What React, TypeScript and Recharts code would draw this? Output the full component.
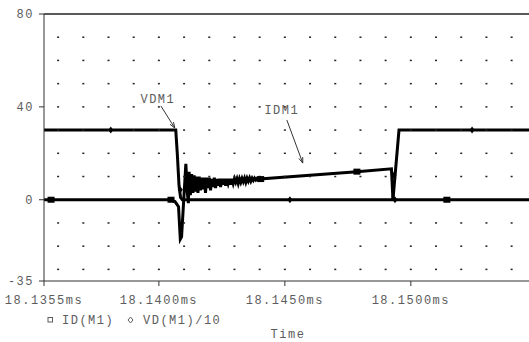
import React from "react";
import {
  ComposedChart,
  Line,
  Scatter,
  XAxis,
  YAxis,
  ReferenceLine,
  ReferenceDot,
} from "recharts";

// time in ms, value in the plot's units (VD already divided by 10)
const idTrace: [number, number][] = [
  [18.13544, 0],
  [18.14044, 0],
  [18.14064, -0.8],
  [18.14078, -3],
  [18.14085, -17],
  [18.1409, -16],
  [18.14107, 15.5],
  [18.14113, 3],
  [18.14117, -1.5],
  [18.1412, 12],
  [18.14125, 2],
  [18.1413, 11],
  [18.14135, 3],
  [18.1414, 10.5],
  [18.14145, 3.5],
  [18.1415, 10],
  [18.14155, 3],
  [18.1416, 10],
  [18.14165, 4],
  [18.1417, 9.5],
  [18.14175, 4.5],
  [18.1418, 9.5],
  [18.14185, 3],
  [18.1419, 9.5],
  [18.14195, 5],
  [18.142, 9.5],
  [18.14205, 4],
  [18.1421, 9],
  [18.14215, 5.5],
  [18.1422, 9.5],
  [18.14225, 5],
  [18.1423, 9],
  [18.14235, 6],
  [18.1424, 9],
  [18.14245, 5.5],
  [18.1425, 9],
  [18.14255, 6.5],
  [18.1426, 9],
  [18.14265, 6],
  [18.1427, 9],
  [18.14275, 7],
  [18.1428, 9],
  [18.14285, 6.5],
  [18.1429, 9],
  [18.14295, 7],
  [18.143, 9],
  [18.14305, 7.5],
  [18.1431, 9],
  [18.14315, 7],
  [18.1432, 9],
  [18.14325, 7.5],
  [18.1433, 9.2],
  [18.14335, 7.8],
  [18.1434, 9.3],
  [18.14345, 7.5],
  [18.1435, 9.3],
  [18.14355, 8],
  [18.1436, 9.4],
  [18.14365, 8],
  [18.1437, 9.3],
  [18.14375, 8.3],
  [18.1438, 9.3],
  [18.14385, 8.5],
  [18.1439, 9.2],
  [18.14395, 8.6],
  [18.144, 8.9],
  [18.14786, 12.1],
  [18.14923, 13.3],
  [18.14929, 0.3],
  [18.14935, 0],
  [18.15469, 0],
];

const vdTrace: [number, number][] = [
  [18.13544, 30],
  [18.14067, 30],
  [18.14073, 20],
  [18.1408, 6],
  [18.14086, 1],
  [18.14093, 0],
  [18.14929, 0],
  [18.14937, 10],
  [18.14953, 30],
  [18.15469, 30],
];

const idMarks: [number, number][] = [
  [18.13572, 0],
  [18.14048, 0],
  [18.14404, 8.9],
  [18.14786, 12.1],
  [18.15143, 0],
];

const vdMarks: [number, number][] = [
  [18.13809, 30],
  [18.14085, 4.3],
  [18.1452, 0],
  [18.14933, 10.6],
  [18.14937, 0],
  [18.15243, 30],
];

const gridTimes = [
  18.136, 18.137, 18.138, 18.139, 18.14, 18.141, 18.142, 18.143, 18.144,
  18.145, 18.146, 18.147, 18.148, 18.149, 18.15, 18.151, 18.152, 18.153,
  18.154,
];
const gridLevels = [-30, -20, -10, 10, 20, 30, 40, 50, 60, 70];

const xTicks = [18.13544, 18.14, 18.145, 18.15];
const xTickLabels = ["18.1355ms", "18.1400ms", "18.1450ms", "18.1500ms"];
const yTicks = [-35, 0, 40, 80];

const toPoints = (rows: [number, number][]) =>
  rows.map(([t, v]) => ({ t, v }));

const gridDots = gridTimes.flatMap((t) => gridLevels.map((v) => ({ t, v })));

const mono = "'Liberation Mono', 'DejaVu Sans Mono', monospace";
const textGrey = "#5c5c5c";
const tickStyle = {
  fill: textGrey,
  fontFamily: mono,
  fontSize: 12,
  letterSpacing: 1.5,
};

const Square = (props: any) => (
  <rect x={props.cx - 3.5} y={props.cy - 3} width={7} height={6} fill="#000" />
);

const Diamond = (props: any) => (
  <polygon
    points={`${props.cx},${props.cy - 3.5} ${props.cx + 2.5},${props.cy} ${props.cx},${props.cy + 3.5} ${props.cx - 2.5},${props.cy}`}
    fill="#000"
  />
);

const GridDot = (props: any) => (
  <rect x={props.cx - 1} y={props.cy - 0.75} width={2} height={1.5} fill="#222" />
);

const Arrow = (props: any) => {
  const { x1, y1, x2, y2 } = props;
  const a = Math.atan2(y2 - y1, x2 - x1);
  const h = 6;
  const s = 0.35;
  const p1 = `${x2 - h * Math.cos(a - s)},${y2 - h * Math.sin(a - s)}`;
  const p2 = `${x2 - h * Math.cos(a + s)},${y2 - h * Math.sin(a + s)}`;
  return (
    <g stroke="#333" strokeWidth={1} fill="none">
      <line x1={x1} y1={y1} x2={x2} y2={y2} />
      <polyline points={`${p1} ${x2},${y2} ${p2}`} />
    </g>
  );
};

const labelShape = (text: string) => (props: any) => (
  <text
    x={props.cx}
    y={props.cy + 4}
    textAnchor="middle"
    fill={textGrey}
    fontFamily={mono}
    fontSize={12}
    letterSpacing={1.5}
  >
    {text}
  </text>
);

export default function App() {
  return (
    <div
      style={{
        position: "absolute",
        left: 0,
        top: 0,
        width: 529,
        height: 342,
        overflow: "hidden",
        background: "#fff",
      }}
    >
      <ComposedChart
        width={529}
        height={342}
        margin={{ top: 14, right: 0, left: 0, bottom: 41 }}
      >
        <XAxis
          type="number"
          dataKey="t"
          domain={[18.13544, 18.15469]}
          ticks={xTicks}
          interval={0}
          allowDataOverflow
          height={20}
          tickSize={5}
          tickMargin={9}
          tick={tickStyle}
          tickFormatter={(_v: number, i: number) => xTickLabels[i]}
          axisLine={{ stroke: "#333" }}
          tickLine={{ stroke: "#333" }}
        />
        <YAxis
          type="number"
          domain={[-35, 80]}
          ticks={yTicks}
          interval={0}
          allowDataOverflow
          width={44}
          tickSize={5}
          tickMargin={5}
          tick={tickStyle}
          axisLine={{ stroke: "#333" }}
          tickLine={{ stroke: "#333" }}
        />
        <ReferenceLine y={80} stroke="#222" strokeWidth={1.5} />
        <Scatter
          data={gridDots}
          dataKey="v"
          shape={GridDot}
          isAnimationActive={false}
        />
        <Line
          data={toPoints(idTrace)}
          dataKey="v"
          type="linear"
          stroke="#000"
          strokeWidth={3}
          dot={false}
          isAnimationActive={false}
        />
        <Line
          data={toPoints(vdTrace)}
          dataKey="v"
          type="linear"
          stroke="#000"
          strokeWidth={3}
          dot={false}
          isAnimationActive={false}
        />
        <Scatter
          data={toPoints(idMarks)}
          dataKey="v"
          shape={Square}
          isAnimationActive={false}
        />
        <Scatter
          data={toPoints(vdMarks)}
          dataKey="v"
          shape={Diamond}
          isAnimationActive={false}
        />
        <ReferenceLine
          segment={[
            { x: 18.14008, y: 40.4 },
            { x: 18.14063, y: 30.9 },
          ]}
          shape={Arrow}
          ifOverflow="visible"
        />
        <ReferenceLine
          segment={[
            { x: 18.14508, y: 34.3 },
            { x: 18.14571, y: 15.8 },
          ]}
          shape={Arrow}
          ifOverflow="visible"
        />
        <ReferenceDot x={18.13996} y={43.2} r={0} shape={labelShape("VDM1")} />
        <ReferenceDot x={18.14488} y={38.6} r={0} shape={labelShape("IDM1")} />
      </ComposedChart>
      <svg
        width={529}
        height={342}
        style={{ position: "absolute", left: 0, top: 0, pointerEvents: "none" }}
      >
        <g fontFamily={mono} fontSize={12} letterSpacing={1.5} fill={textGrey}>
          <rect x={48} y={317.5} width={4.5} height={4.5} fill="none" stroke={textGrey} />
          <text x={62} y={324}>ID(M1)</text>
          <polygon
            points="130.5,317 133,320 130.5,323 128,320"
            fill="none"
            stroke={textGrey}
          />
          <text x={143} y={324}>VD(M1)/10</text>
          <text x={288} y={338} textAnchor="middle">Time</text>
        </g>
      </svg>
    </div>
  );
}
